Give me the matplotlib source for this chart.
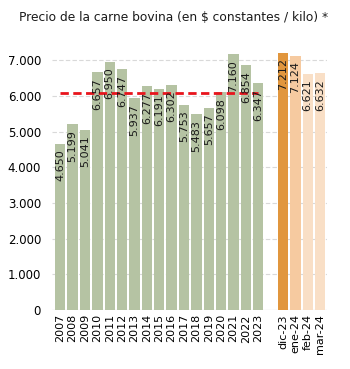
import numpy as np
import matplotlib.pyplot as plt

# datos del gráfico
anios = ['2007', '2008', '2009', '2010', '2011', '2012', '2013', '2014', '2015',
         '2016', '2017', '2018', '2019', '2020', '2021', '2022', '2023']
precio_anual = [4650, 5199, 5041, 6657, 6950, 6747, 5937, 6277, 6191,
                6302, 5753, 5483, 5657, 6098, 7160, 6854, 6347]
meses = ['dic-23', 'ene-24', 'feb-24', 'mar-24']
precio_mensual = [7212, 7124, 6621, 6632]
ticks_y = [0, 1000, 2000, 3000, 4000, 5000, 6000, 7000]


def fmt_miles(v):
    """Formato con punto como separador de miles."""
    return f'{v:,.0f}'.replace(',', '.')


fig = plt.figure(figsize=(3.5, 3.69), dpi=100)
ax = fig.add_axes([0.149, 0.16, 0.785, 0.706])

x_anual = np.arange(len(anios))
x_mes = np.arange(len(meses)) + len(anios) + 1

verde = '#b5c3a3'
colores_mes = ['#e1963d', '#f6caa0', '#f9dfc6', '#f9dfc6']

ax.bar(x_anual, precio_anual, width=0.84, color=verde, zorder=2)
ax.bar(x_mes, precio_mensual, width=0.84, color=colores_mes, zorder=2)

# promedio del período
prom = np.mean(precio_anual)
ax.plot([x_anual[0], x_anual[-1]], [prom, prom], color='#e8141c',
        linestyle=(0, (3, 1.6)), linewidth=2, zorder=3)

for xi, v in zip(list(x_anual) + list(x_mes), precio_anual + precio_mensual):
    ax.annotate(fmt_miles(v), (xi, v), xytext=(0, -4), textcoords='offset points',
                rotation=90, ha='center', va='top', fontsize=8, color='#1a1a1a',
                zorder=4)

ax.set_xticks(list(x_anual) + list(x_mes))
ax.set_xticklabels(anios + meses, rotation=90, fontsize=8)
ax.set_yticks(ticks_y)
ax.set_yticklabels([fmt_miles(t) for t in ticks_y], fontsize=8.5)
ax.set_xlim(-0.65, 21.55)
ax.set_ylim(0, 7300)
ax.tick_params(length=0, pad=3)
ax.tick_params(axis='y', pad=8)
ax.grid(axis='y', color='#d9d9d9', linestyle=(0, (4, 2)), linewidth=0.8, zorder=0)
for s in ax.spines.values():
    s.set_visible(False)
ax.axhline(0, color='#d9d9d9', linewidth=0.8, zorder=1)

fig.text(0.495, 0.953, 'Precio de la carne bovina (en $ constantes / kilo) *',
         ha='center', va='center', fontsize=8.8, color='#1a1a1a')

fig.savefig('out.png', dpi=100)
